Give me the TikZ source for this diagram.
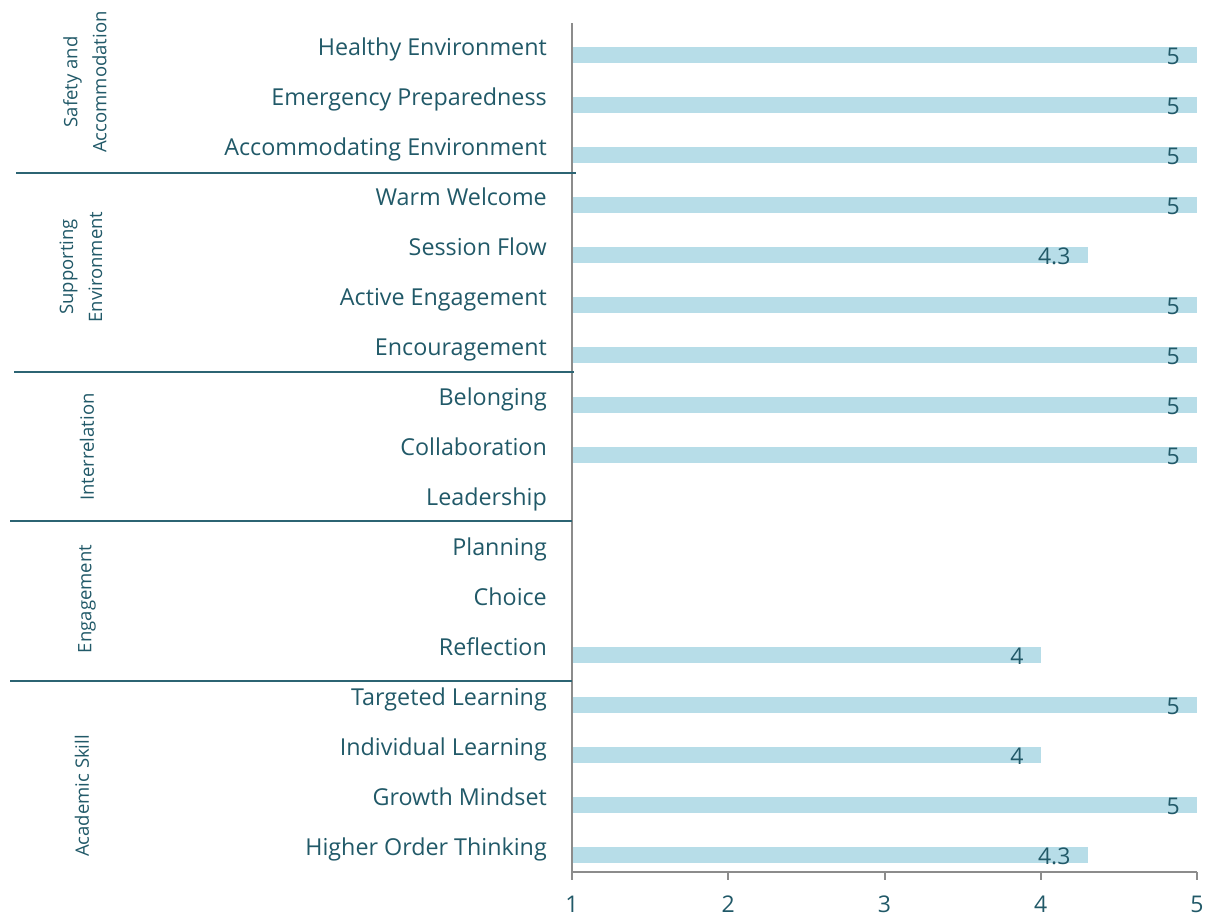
\documentclass[tikz,border=0pt]{standalone}
\usepackage{fontspec}
\setmainfont{Open Sans}
\usetikzlibrary{positioning}
\definecolor{tealtext}{RGB}{33,89,104}
\definecolor{barblue}{RGB}{183,221,232}
\definecolor{axisgray}{RGB}{140,140,140}
\definecolor{sepline}{RGB}{44,100,115}

\tikzset{
	rowlabel/.style={anchor=base east, inner sep=0pt, text=tealtext, font=\fontsize{23.3}{27}\selectfont},
	vallabel/.style={anchor=base east, inner sep=0pt, text=tealtext, font=\fontsize{23}{27}\selectfont},
	ticklabel/.style={anchor=base, inner sep=0pt, text=tealtext, font=\fontsize{23}{27}\selectfont},
	grouplabel/.style={rotate=90, align=center, inner sep=0pt, text=tealtext, font=\fontsize{18.5}{29}\selectfont},
	bar/.style={fill=barblue, draw=none},
	axisline/.style={draw=axisgray, line width=2pt},
	sepline/.style={draw=sepline, line width=2pt},
}

\begin{document}
\begin{tikzpicture}[x=1pt, y=-1pt]
		\useasboundingbox (0,0) rectangle (1207,916);
		
		% bars and values
		\foreach \i/\v in {0/5,1/5,2/5,3/5,4/4.3,5/5,6/5,7/5,8/5,12/4,13/5,14/4,15/5,16/4.3}{
			\fill[bar] (572,{47+50*\i}) rectangle ({572+(\v-1)*156.25},{63+50*\i});
			\node[vallabel] (val\i) at ({572+(\v-1)*156.25-17},{64.5+50*\i}) {\v};
		}
		
		% row labels
		\foreach \name [count=\i from 0] in {Healthy Environment, Emergency Preparedness, Accommodating Environment, Warm Welcome, Session Flow, Active Engagement, Encouragement, Belonging, Collaboration, Leadership, Planning, Choice, Reflection, Targeted Learning, Individual Learning, Growth Mindset, Higher Order Thinking}
			\node[rowlabel] (row\i) at (547,{55+50*\i}) {\name};
		
		% axes
		\coordinate (top) at (572,23);
		\coordinate (origin) at (572,872);
		\coordinate (end) at (1197,872);
		\draw[axisline] (top) -- (origin) -- (end);
		\foreach \t in {1,...,5}{
			\coordinate (tick\t) at ({572+(\t-1)*156.25},872);
			\draw[axisline] (tick\t) -- ++(0,8);
			\node[ticklabel] (tl\t) at ({572+(\t-1)*156.25},912) {\t};
		}
		
		% group separators
		\coordinate (s1a) at (16,173);  \coordinate (s1b) at (576,173);
		\coordinate (s2a) at (14,372);  \coordinate (s2b) at (574,372);
		\coordinate (s3a) at (10,521);  \coordinate (s3b) at (572,521);
		\coordinate (s4a) at (10,681);  \coordinate (s4b) at (572,681);
		\draw[sepline] (s1a) -- (s1b);
		\draw[sepline] (s2a) -- (s2b);
		\draw[sepline] (s3a) -- (s3b);
		\draw[sepline] (s4a) -- (s4b);
		
		% group labels
		\node[grouplabel] (safety) at (85,82) {Safety and\\Accommodation};
		\node[grouplabel] (support) at (81,267) {Supporting\\Environment};
		\node[grouplabel] (inter) at (87,447) {Interrelation};
		\node[grouplabel] (engage) at (87,599) {Engagement};
		\node[grouplabel] (academic) at (82,796) {Academic Skill};
	\end{tikzpicture}
\end{document}
